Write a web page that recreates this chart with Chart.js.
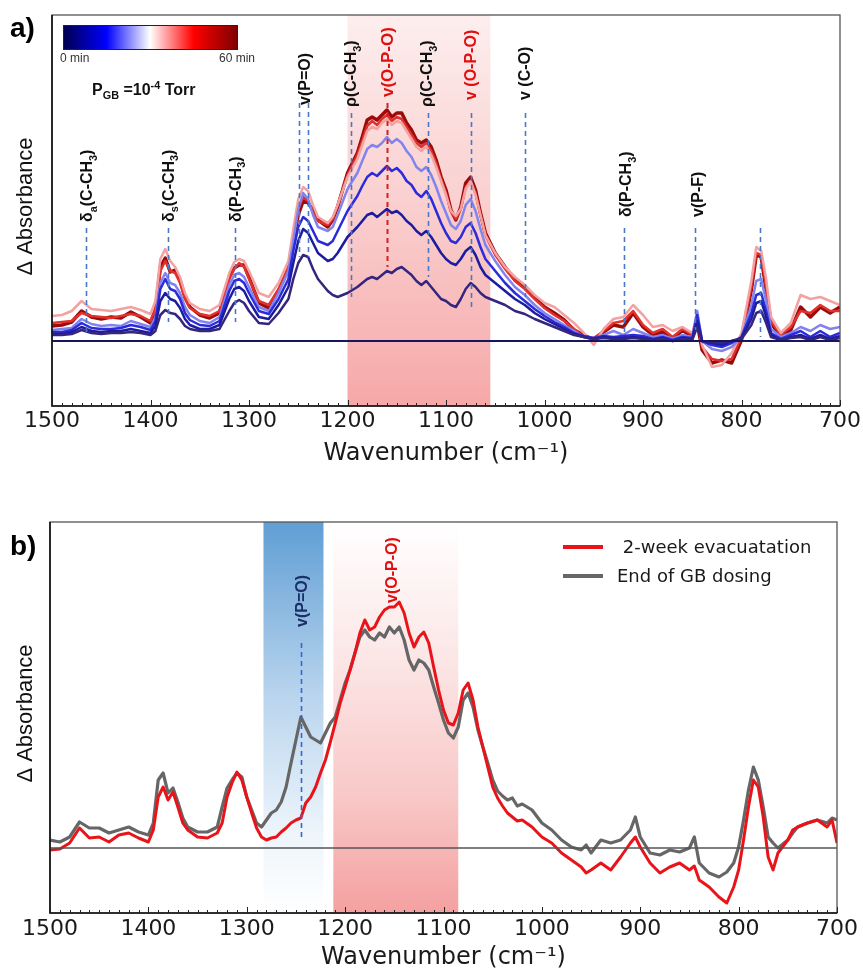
<!DOCTYPE html>
<html><head><meta charset="utf-8">
<script src="https://cdn.jsdelivr.net/npm/chart.js@4.4.1/dist/chart.umd.min.js"></script>
<style>
html,body{margin:0;padding:0;background:#fff;width:863px;height:970px;overflow:hidden}
#wa{position:absolute;left:0;top:0;width:863px;height:480px}
#wb{position:absolute;left:0;top:480px;width:863px;height:490px}
canvas{display:block}
</style></head><body>
<div id="wa"><canvas id="ca" width="863" height="480"></canvas></div>
<div id="wb"><canvas id="cb" width="863" height="490"></canvas></div>
<script>
// ---------------- DATA (ΔAbsorbance, arbitrary units ×1e-4) ----------------
const xTicks = [1500, 1400, 1300, 1200, 1100, 1000, 900, 800, 700];

// Panel a: wavenumbers (cm-1)
const aWave = [1500,1490,1480,1470,1460,1450,1440,1430,1420,1410,1400,
  1395,1390,1385,1380,1375,1370,1365,1360,
  1350,1340,1330,1320,
  1315,1310,1305,1300,
  1290,1280,1270,1260,
  1255,1250,1245,1240,1235,1230,
  1220,1215,1210,1200,1190,
  1185,1180,1175,1170,1165,1160,1155,1150,1145,1140,1135,1130,1125,1120,1115,1110,1105,1100,1095,1090,1085,1080,1075,1070,1065,1060,
  1050,1040,1030,1020,1010,1000,990,980,970,960,950,940,930,920,910,900,890,880,870,860,850,
  845,
  840,830,820,810,800,790,
  785,780,775,770,
  760,750,740,730,720,710,700];

const aBaseWave = [1500, 700];
const a0min = [0, 0];

const a5min = [6,6,7,11,8,7,8,8,9,8,6,
  10,26,31,28,27,22,15,12,
  10,10,12,30,
  38,41,38,30,
  18,17,28,42,
  62,78,86,84,72,62,
  50,46,44,48,54,
  58,62,64,62,66,70,68,72,74,70,66,60,56,60,54,48,42,40,36,34,42,52,58,54,48,44,
  40,36,30,27,22,18,14,10,6,4,2,3,2,2,3,2,1,2,0,2,1,
  14,
  0,-1,-2,0,2,16,
  28,30,18,4,
  1,3,4,1,4,1,3];

const a10min = [7,7,9,14,10,9,10,10,12,10,8,
  15,40,48,42,40,33,22,16,
  12,12,16,42,
  52,54,50,40,
  24,22,36,54,
  78,100,112,108,98,88,
  80,82,88,104,114,
  120,126,128,124,128,132,128,130,126,120,116,110,106,110,104,96,88,82,78,76,82,90,94,86,74,66,
  58,50,42,36,28,22,17,12,7,4,2,4,3,3,4,3,1,3,0,3,2,
  20,
  0,-2,-4,0,3,22,
  38,40,24,6,
  1,4,6,2,6,2,5];

const a20min = [9,9,11,18,13,12,12,13,16,14,11,
  20,52,62,52,50,42,28,21,
  16,15,20,50,
  60,62,58,48,
  30,27,42,62,
  90,114,124,120,110,100,
  96,100,110,130,145,
  155,164,168,165,170,175,170,173,168,160,156,148,144,150,142,130,118,108,100,98,104,114,118,108,94,82,
  70,58,48,40,32,25,19,14,8,5,3,5,4,5,6,5,2,4,1,4,3,
  26,
  0,-4,-6,-2,4,28,
  46,48,30,8,
  2,6,10,4,10,4,8];

const a30min = [11,12,13,22,17,15,16,15,20,17,14,
  24,58,68,58,56,48,34,26,
  20,18,24,56,
  66,68,64,54,
  34,30,48,70,
  100,132,148,142,126,114,
  110,114,126,152,168,
  180,192,196,194,198,204,198,202,198,190,184,174,170,174,166,154,140,128,116,112,120,136,142,130,112,96,
  80,66,54,46,36,28,22,16,10,4,2,6,10,6,12,8,4,6,2,6,4,
  30,
  0,-8,-10,-6,4,36,
  60,62,40,12,
  4,8,14,10,16,12,14];

const a40min = [25,26,30,40,32,31,30,32,34,31,27,
  40,82,92,80,74,64,48,38,
  32,30,36,68,
  79,82,80,70,
  48,44,58,80,
  112,142,154,150,136,124,
  118,124,136,164,182,
  196,210,214,212,218,222,216,220,218,210,202,194,190,195,186,174,160,146,130,125,132,152,160,146,126,106,
  88,74,64,56,46,38,34,26,18,8,-4,12,22,24,36,26,14,16,10,14,8,
  26,
  -4,-26,-24,-12,8,60,
  94,90,62,24,
  8,18,46,42,44,40,36];

const a50min = [18,19,20,28,25,24,23,25,27,25,20,
  33,70,80,70,68,58,42,33,
  27,25,30,62,
  72,78,74,62,
  40,36,52,74,
  104,132,144,140,128,120,
  116,122,136,166,186,
  200,215,220,216,222,226,220,224,222,214,206,198,194,198,190,178,162,148,130,122,132,154,160,148,126,106,
  86,72,60,52,42,33,26,20,12,4,3,10,18,20,30,16,8,12,4,12,6,
  22,
  -6,-18,-20,-18,4,54,
  88,86,54,20,
  6,14,30,28,36,30,30];

const a60min = [15,16,19,30,24,22,24,23,29,24,18,
  31,74,83,69,71,61,44,34,
  26,23,28,64,
  73,76,76,64,
  38,33,50,72,
  100,126,140,138,131,121,
  114,121,134,168,188,
  204,221,224,221,226,231,224,228,228,218,211,201,198,201,194,181,164,151,131,121,134,158,164,151,128,108,
  88,74,61,54,44,34,28,21,11,6,1,9,16,14,28,14,6,9,1,11,4,
  18,
  -9,-22,-19,-22,1,51,
  86,84,51,18,
  4,11,34,24,34,28,34];

// Panel b
const bWave = [1500,1490,1480,1470,1460,1450,1440,1430,1420,1410,1400,
  1395,1390,1385,1380,1375,1370,1365,1360,
  1350,1340,1330,
  1325,1320,1315,1310,1305,1300,1295,1290,1285,1280,1275,1270,1265,1260,1255,1250,1245,1240,1235,1230,
  1225,1220,1215,1210,1205,1200,1195,1190,1185,1180,1175,1170,1165,1160,1155,1150,1145,1140,1135,1130,
  1125,1120,1115,1110,1105,1100,1095,1090,1085,1080,1075,1070,1065,1060,1055,1050,1045,1040,1035,1030,
  1025,1020,
  1010,1000,990,980,970,960,
  955,950,940,930,920,910,905,900,890,880,870,860,850,845,840,830,820,812,805,800,
  795,790,785,780,775,770,765,760,750,745,740,730,720,710,705,700];

const bEvac = [-2,-1,5,20,10,11,6,13,15,10,6,
  18,51,61,48,56,41,25,18,
  11,10,15,
  25,51,65,76,68,51,35,20,11,8,10,11,16,20,25,28,30,45,51,61,
  75,88,106,125,145,161,178,195,215,228,218,221,231,238,241,241,246,235,215,201,
  211,216,205,181,158,138,125,123,135,158,165,148,121,101,81,61,50,42,35,31,
  27,28,
  21,11,5,-5,-12,-19,
  -25,-22,-15,-22,-9,5,11,1,-15,-25,-19,-15,-22,-18,-32,-39,-49,-55,-39,-22,
  8,41,68,61,31,-9,-22,-5,8,18,21,25,28,21,28,5];

const bDose = [8,6,11,26,20,20,15,18,21,16,13,
  25,68,75,55,60,46,30,21,
  16,16,21,
  41,60,68,75,71,51,38,25,21,28,35,38,46,61,85,108,131,121,111,108,
  105,115,125,131,148,165,178,195,211,218,211,208,215,211,221,215,221,208,188,178,
  188,185,178,161,145,128,115,110,121,148,155,141,118,101,85,68,57,52,48,50,
  42,44,
  38,25,18,8,1,-2,
  3,-5,8,5,8,18,31,11,-5,-7,-2,-4,0,11,-15,-25,-29,-24,-15,1,
  28,58,81,68,41,11,5,0,8,15,21,25,28,25,30,28];
const bBaseWave = [1500, 700];
const bZero = [0, 0];

// ---------------- helpers ----------------
const pts = (w, v) => w.map((x, i) => ({x, y: v[i]}));
const SANS = '"Liberation Sans", Arial, sans-serif';
const DEJA = '"DejaVu Sans", sans-serif';

function parseRich(s) {
  const parts = []; let i = 0, buf = '';
  while (i < s.length) {
    const c = s[i];
    if ((c === '_' || c === '^') && s[i+1] === '{') {
      if (buf) { parts.push({t: buf}); buf = ''; }
      const j = s.indexOf('}', i);
      parts.push({t: s.slice(i+2, j), s: c === '_' ? 'sub' : 'sup'});
      i = j + 1;
    } else { buf += c; i++; }
  }
  if (buf) parts.push({t: buf});
  return parts;
}
function drawRich(ctx, text, x, y, o) {
  const size = o.size, parts = parseRich(text);
  ctx.save();
  ctx.translate(x, y);
  if (o.rotate) ctx.rotate(-Math.PI / 2);
  ctx.fillStyle = o.color || '#000';
  ctx.textBaseline = 'alphabetic';
  ctx.textAlign = 'left';
  const base = o.center ? size * 0.36 : 0;
  let cx = 0;
  for (const p of parts) {
    const fs = p.s ? size * 0.68 : size;
    ctx.font = `${o.weight || 'bold'} ${fs}px ${o.family || SANS}`;
    const dy = p.s === 'sub' ? size * 0.28 : p.s === 'sup' ? -size * 0.38 : 0;
    ctx.fillText(p.t, cx, base + dy);
    cx += ctx.measureText(p.t).width;
  }
  ctx.restore();
}

const xAxis = (tickPad, titlePadBottom, h) => ({
  type: 'linear', min: 700, max: 1500, reverse: true,
  afterBuildTicks: s => { s.ticks = xTicks.map(v => ({value: v})); },
  grid: {display: false, drawTicks: false},
  border: {display: false},
  ticks: {autoSkip: false, maxRotation: 0, padding: tickPad, color: '#1a1a1a',
          font: {family: DEJA, size: 22}, callback: v => String(v)},
  title: {display: true, text: 'Wavenumber (cm\u207B\u00B9)', color: '#1a1a1a',
          font: {family: DEJA, size: 24}, padding: {top: 0, bottom: titlePadBottom}},
  afterFit: s => { s.height = h; }
});
const yAxis = {type: 'linear', min: -65, max: 326, display: false};

// plugin: gradient bands
const bandsPlugin = {
  id: 'bands',
  beforeDatasetsDraw(chart, args, opts) {
    const {ctx, chartArea: ca, scales: {x}} = chart;
    ctx.save();
    for (const b of opts.list || []) {
      const x1 = x.getPixelForValue(b.from), x2 = x.getPixelForValue(b.to);
      const g = ctx.createLinearGradient(0, ca.top, 0, ca.bottom);
      b.stops.forEach(([o, c]) => g.addColorStop(o, c));
      ctx.fillStyle = g;
      ctx.fillRect(Math.min(x1, x2), ca.top, Math.abs(x2 - x1), ca.bottom - ca.top);
    }
    ctx.restore();
  }
};

// plugin: annotations, frame, ticks
const annoPlugin = {
  id: 'anno',
  afterDatasetsDraw(chart, args, opts) {
    const {ctx, chartArea: ca, scales: {x, y}} = chart;
    ctx.save();
    for (const l of opts.lines || []) {
      const px = Math.round(x.getPixelForValue(l.w)) + 0.5;
      ctx.strokeStyle = l.color; ctx.lineWidth = l.width || 1.6;
      ctx.setLineDash([5, 4]);
      ctx.beginPath();
      ctx.moveTo(px, y.getPixelForValue(l.top));
      ctx.lineTo(px, y.getPixelForValue(l.bot));
      ctx.stroke();
    }
    ctx.setLineDash([]);
    for (const t of opts.labels || []) {
      drawRich(ctx, t.text, x.getPixelForValue(t.w), y.getPixelForValue(t.h),
               {size: t.size || opts.labelSize || 16, color: t.color, rotate: true, center: true});
    }
    // frame
    ctx.strokeStyle = '#555'; ctx.lineWidth = 1.3;
    ctx.strokeRect(ca.left, ca.top, ca.right - ca.left, ca.bottom - ca.top);
    ctx.strokeStyle = '#111'; ctx.lineWidth = 1.6;
    ctx.beginPath();
    ctx.moveTo(ca.left, ca.top); ctx.lineTo(ca.left, ca.bottom); ctx.lineTo(ca.right, ca.bottom);
    ctx.stroke();
    // inward ticks
    ctx.strokeStyle = '#222'; ctx.lineWidth = 1;
    for (let w = 700; w <= 1500; w += 10) {
      const px = Math.round(x.getPixelForValue(w)) + 0.5;
      const len = w % 100 === 0 ? 6 : 3;
      ctx.beginPath(); ctx.moveTo(px, ca.bottom); ctx.lineTo(px, ca.bottom - len); ctx.stroke();
    }
    ctx.restore();
  },
  afterDraw(chart, args, opts) {
    const {ctx, chartArea: ca} = chart;
    ctx.save();
    // y title
    ctx.translate(26, (ca.top + ca.bottom) / 2 - 4);
    ctx.rotate(-Math.PI / 2);
    ctx.font = `22px ${SANS}`;
    ctx.fillStyle = '#111';
    ctx.textAlign = 'center'; ctx.textBaseline = 'middle';
    ctx.fillText('\u0394 Absorbance', 0, 0);
    ctx.restore();
    // panel letter
    ctx.save();
    ctx.font = `bold 28px ${SANS}`;
    ctx.fillStyle = '#000';
    ctx.fillText(opts.letter, 10, ca.top + opts.letterDy);
    ctx.restore();
    if (opts.extra) opts.extra(chart);
  }
};

// ---------------- Panel a ----------------
const aSeries = [
  {label: '0 min',  w: aBaseWave, v: a0min,  color: '#16165e', bw: 2},
  {label: '5 min',  w: aWave, v: a5min,  color: '#34257f', bw: 2.5},
  {label: '10 min', w: aWave, v: a10min, color: '#1c1ca0', bw: 2.5},
  {label: '20 min', w: aWave, v: a20min, color: '#2b2bdc', bw: 2.5},
  {label: '30 min', w: aWave, v: a30min, color: '#8383ee', bw: 2.5},
  {label: '40 min', w: aWave, v: a40min, color: '#f3a2a2', bw: 2.5},
  {label: '50 min', w: aWave, v: a50min, color: '#e2302c', bw: 2.5},
  {label: '60 min', w: aWave, v: a60min, color: '#9b0b0b', bw: 3.5}
];

function drawExtraA(chart) {
  const {ctx, chartArea: ca} = chart;
  ctx.save();
  // colour bar (seismic)
  const cx = ca.left + 11, cy = ca.top + 10, cw = 174, ch = 24;
  const g = ctx.createLinearGradient(cx, 0, cx + cw, 0);
  g.addColorStop(0, '#00004c'); g.addColorStop(0.25, '#0000ff');
  g.addColorStop(0.5, '#ffffff'); g.addColorStop(0.75, '#ff0000');
  g.addColorStop(1, '#800000');
  ctx.fillStyle = g; ctx.fillRect(cx, cy, cw, ch);
  ctx.strokeStyle = '#222'; ctx.lineWidth = 1; ctx.strokeRect(cx + 0.5, cy + 0.5, cw, ch);
  ctx.font = `12px ${SANS}`; ctx.fillStyle = '#333'; ctx.textBaseline = 'middle';
  ctx.textAlign = 'left'; ctx.fillText('0 min', cx - 3, cy + ch + 10);
  ctx.fillText('60 min', cx + 156, cy + ch + 10);
  ctx.restore();
  drawRich(ctx, 'P_{GB} =10^{-4} Torr', ca.left + 40, ca.top + 80, {size: 16, color: '#111'});
}

new Chart(document.getElementById('ca'), {
  type: 'line',
  data: {datasets: aSeries.map(s => ({
    label: s.label, data: pts(s.w, s.v), borderColor: s.color, borderWidth: s.bw,
    pointRadius: 0, tension: 0, fill: false, borderJoinStyle: 'round'}))},
  options: {
    responsive: false, animation: false, devicePixelRatio: 1,
    layout: {padding: {left: 52, right: 23, top: 15, bottom: 0}},
    scales: {x: xAxis(2, 12, 74), y: yAxis},
    plugins: {
      legend: {display: false}, tooltip: {enabled: false},
      bands: {list: [{from: 1200, to: 1055,
        stops: [[0, 'rgba(253,238,238,1)'], [0.5, 'rgba(250,206,206,1)'], [1, 'rgba(246,168,168,1)']]}]},
      anno: {
        letter: 'a)', letterDy: 22, labelSize: 16,
        lines: [
          {w: 1465, top: 113, bot: 6, color: '#4a78c8'},
          {w: 1382, top: 113, bot: 19, color: '#4a78c8'},
          {w: 1314, top: 113, bot: 19, color: '#4a78c8'},
          {w: 1249, top: 238, bot: 84, color: '#4a78c8'},
          {w: 1240, top: 238, bot: 84, color: '#4a78c8'},
          {w: 1196, top: 228, bot: 44, color: '#4a78c8'},
          {w: 1160, top: 238, bot: 74, color: '#d42020', width: 2},
          {w: 1118, top: 228, bot: 64, color: '#4a78c8'},
          {w: 1075, top: 228, bot: 34, color: '#4a78c8'},
          {w: 1020, top: 228, bot: 44, color: '#4a78c8'},
          {w: 919, top: 113, bot: 5, color: '#4a78c8'},
          {w: 847, top: 113, bot: 11, color: '#4a78c8'},
          {w: 781, top: 113, bot: 4, color: '#4a78c8'}
        ],
        labels: [
          {w: 1465, h: 119, text: '\u03B4_{a}(C-CH_{3})', color: '#111'},
          {w: 1382, h: 119, text: '\u03B4_{s}(C-CH_{3})', color: '#111'},
          {w: 1314, h: 119, text: '\u03B4(P-CH_{3})', color: '#111'},
          {w: 1244, h: 236, text: 'v(P=O)', color: '#111'},
          {w: 1197, h: 234, text: '\u03C1(C-CH_{3})', color: '#111'},
          {w: 1160, h: 244, text: 'v(O-P-O)', color: '#e01010', size: 17},
          {w: 1120, h: 234, text: '\u03C1(C-CH_{3})', color: '#111'},
          {w: 1075, h: 241, text: 'v (O-P-O)', color: '#e01010'},
          {w: 1021, h: 241, text: 'v (C-O)', color: '#111'},
          {w: 918, h: 124, text: '\u03B4(P-CH_{3})', color: '#111'},
          {w: 845, h: 124, text: 'v(P-F)', color: '#111'}
        ],
        extra: drawExtraA
      }
    }
  },
  plugins: [bandsPlugin, annoPlugin]
});

// ---------------- Panel b ----------------
const bSeries = [
  {label: '', w: bBaseWave, v: bZero, color: '#555555', bw: 1.5, legend: false},
  {label: ' 2-week evacuatation', w: bWave, v: bEvac, color: '#e8141a', bw: 3, legend: true},
  {label: 'End of GB dosing', w: bWave, v: bDose, color: '#666666', bw: 3.2, legend: true}
];

function drawExtraB(chart) {
  const {ctx, chartArea: ca} = chart;
  ctx.save();
  let ly = ca.top + 25;
  for (const s of bSeries.filter(s => s.legend)) {
    ctx.strokeStyle = s.color; ctx.lineWidth = 4;
    ctx.beginPath(); ctx.moveTo(563, ly); ctx.lineTo(603, ly); ctx.stroke();
    ctx.font = `18px ${DEJA}`; ctx.fillStyle = '#1a1a1a';
    ctx.textAlign = 'left'; ctx.textBaseline = 'middle';
    ctx.fillText(s.label, 617, ly + 1);
    ly += 29;
  }
  ctx.restore();
}

new Chart(document.getElementById('cb'), {
  type: 'line',
  data: {datasets: bSeries.map(s => ({
    label: s.label, data: pts(s.w, s.v), borderColor: s.color, borderWidth: s.bw,
    pointRadius: 0, tension: 0, fill: false, borderJoinStyle: 'round'}))},
  options: {
    responsive: false, animation: false, devicePixelRatio: 1,
    layout: {padding: {left: 50, right: 26, top: 42, bottom: 0}},
    scales: {x: xAxis(3, -2, 57), y: yAxis},
    plugins: {
      legend: {display: false}, tooltip: {enabled: false},
      bands: {list: [
        {from: 1283, to: 1222,
         stops: [[0, 'rgba(96,158,212,1)'], [0.45, 'rgba(186,213,238,1)'], [0.8, 'rgba(238,245,251,1)'], [1, 'rgba(255,255,255,1)']]},
        {from: 1212, to: 1085,
         stops: [[0, 'rgba(255,255,255,1)'], [0.35, 'rgba(252,230,230,1)'], [0.7, 'rgba(249,200,200,1)'], [1, 'rgba(244,160,160,1)']]}
      ]},
      anno: {
        letter: 'b)', letterDy: 33, labelSize: 16,
        lines: [{w: 1245, top: 205, bot: 10, color: '#3a66cc'}],
        labels: [
          {w: 1245, h: 221, text: 'v(P=O)', color: '#1c2f66'},
          {w: 1153, h: 245, text: 'v(O-P-O)', color: '#e01010'}
        ],
        extra: drawExtraB
      }
    }
  },
  plugins: [bandsPlugin, annoPlugin]
});
</script>
</body></html>
